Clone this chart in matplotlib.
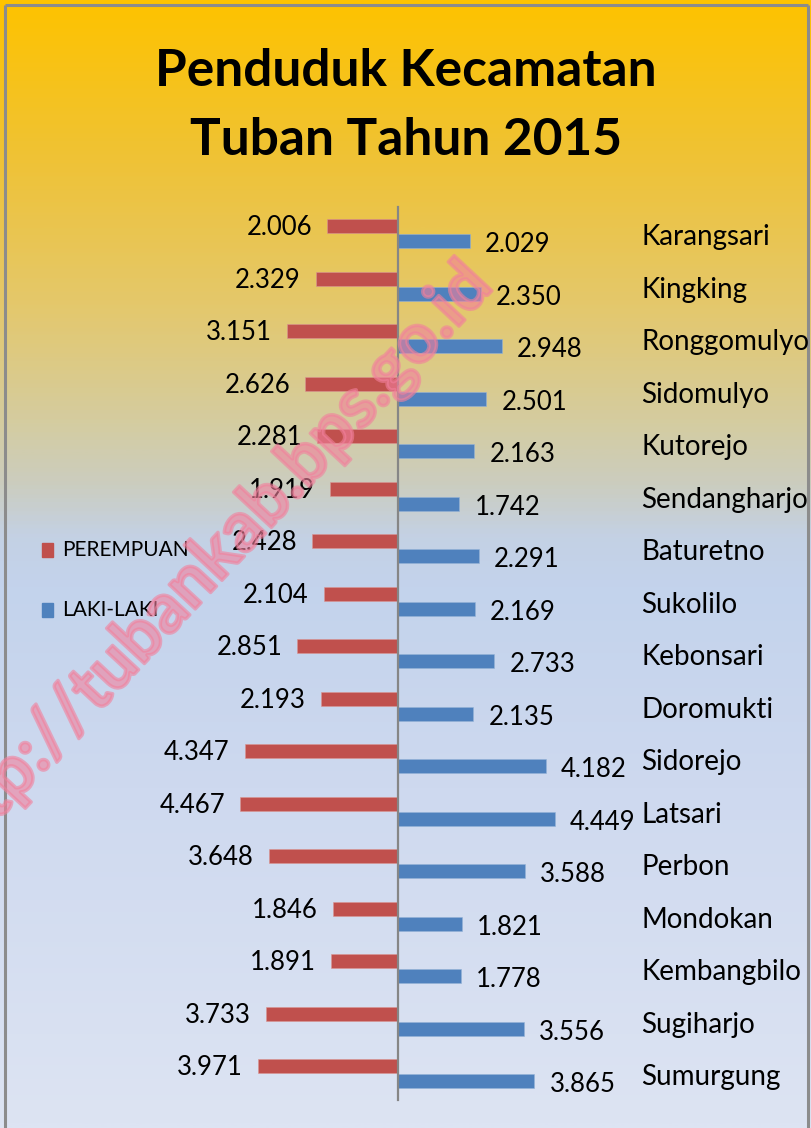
import numpy as np
import matplotlib
matplotlib.use("Agg")
import matplotlib.pyplot as plt
import matplotlib.patheffects as pe
from matplotlib.colors import LinearSegmentedColormap

plt.rcParams['font.family'] = ['Lato', 'DejaVu Sans']

# ---------------- data ----------------
title = "Penduduk Kecamatan\nTuban Tahun 2015"
categories = ["Karangsari", "Kingking", "Ronggomulyo", "Sidomulyo", "Kutorejo",
              "Sendangharjo", "Baturetno", "Sukolilo", "Kebonsari", "Doromukti",
              "Sidorejo", "Latsari", "Perbon", "Mondokan", "Kembangbilo",
              "Sugiharjo", "Sumurgung"]
perempuan = [2.006, 2.329, 3.151, 2.626, 2.281, 1.919, 2.428, 2.104, 2.851, 2.193,
             4.347, 4.467, 3.648, 1.846, 1.891, 3.733, 3.971]
laki_laki = [2.029, 2.350, 2.948, 2.501, 2.163, 1.742, 2.291, 2.169, 2.733, 2.135,
             4.182, 4.449, 3.588, 1.821, 1.778, 3.556, 3.865]
series_names = ["PEREMPUAN", "LAKI-LAKI"]
watermark = "http://tubankab.bps.go.id"

RED = "#C0504D"
BLUE = "#4F81BD"

W, H = 812, 1128
fig = plt.figure(figsize=(W / 100, H / 100), dpi=100)

# ---------------- background gradient ----------------
bg = fig.add_axes([0, 0, 1, 1], zorder=0)
stops = [
    (0.000, (254, 195, 0)),
    (0.130, (240, 194, 50)),
    (0.270, (228, 200, 108)),
    (0.370, (213, 204, 158)),
    (0.430, (203, 205, 192)),
    (0.475, (196, 209, 228)),
    (0.520, (195, 211, 236)),
    (0.700, (206, 217, 239)),
    (1.000, (221, 228, 243)),
]
cmap = LinearSegmentedColormap.from_list(
    "bg", [(p, tuple(c / 255 for c in col)) for p, col in stops])
grad = np.linspace(0, 1, 600).reshape(-1, 1)
bg.imshow(grad, aspect="auto", cmap=cmap, extent=[0, W, H, 0])
bg.set_xlim(0, W)
bg.set_ylim(H, 0)
bg.axis("off")
# frame (left, top, right)
bg.plot([5, 5], [H, 5], color="#8C8C8C", lw=2.2, solid_capstyle="butt")
bg.plot([5, 808], [5, 5], color="#8C8C8C", lw=2.2, solid_capstyle="butt")
bg.plot([808, 808], [5, H], color="#8C8C8C", lw=2.2, solid_capstyle="butt")

# ---------------- main axes ----------------
ax = fig.add_axes([0, 0, 1, 1], zorder=1)
ax.patch.set_alpha(0)
px_per_unit = 35.3
x0 = 398.0
row0, row_step = 233.5, 52.5
ax.set_xlim(-x0 / px_per_unit, (W - x0) / px_per_unit)
ax.set_ylim((H - row0) / row_step, -row0 / row_step)
ax.axis("off")

n = len(categories)
idx = np.arange(n)
bh = 14 / row_step
off = 7.5 / row_step

ax.barh(idx - off, [-v for v in perempuan], height=bh, color=RED,
        edgecolor="#D99694", linewidth=0.4)
ax.barh(idx + off, laki_laki, height=bh, color=BLUE,
        edgecolor="#95B3D7", linewidth=0.4)

ax.plot([0, 0], [-0.5, 16.5], color="#868686", lw=1.6)

gap = 15 / px_per_unit
lab_fs = 18.5
for i in range(n):
    ax.text(-perempuan[i] - gap, i - off + 0.03, f"{perempuan[i]:.3f}",
            ha="right", va="center", fontsize=lab_fs, color="black")
    ax.text(laki_laki[i] + gap, i + off + 0.07, f"{laki_laki[i]:.3f}",
            ha="left", va="center", fontsize=lab_fs, color="black")
    ax.text((641 - x0) / px_per_unit, i + 0.07, categories[i],
            ha="left", va="center", fontsize=20, color="black")

# ---------------- title ----------------
fig.text(406 / W, 1 - 106 / H, title, ha="center", va="center",
         fontsize=37, fontweight="bold", linespacing=1.6, color="black")

# ---------------- legend ----------------
for k, (name, col, yc) in enumerate([(series_names[0], RED, 550),
                                      (series_names[1], BLUE, 610)]):
    bg.add_patch(plt.Rectangle((42, yc - 7), 11, 14, color=col))
    bg.text(62, yc, name, ha="left", va="center", fontsize=15, color="black")

# ---------------- watermark ----------------
fig.text(210 / W, 1 - 566 / H, watermark, ha="center", va="center",
         rotation=47, fontsize=50, fontweight="bold", color="#F2809C",
         alpha=0.6, zorder=5,
         path_effects=[pe.Stroke(linewidth=2.5, foreground="#F2809C")])

fig.savefig("out.png", dpi=100)
